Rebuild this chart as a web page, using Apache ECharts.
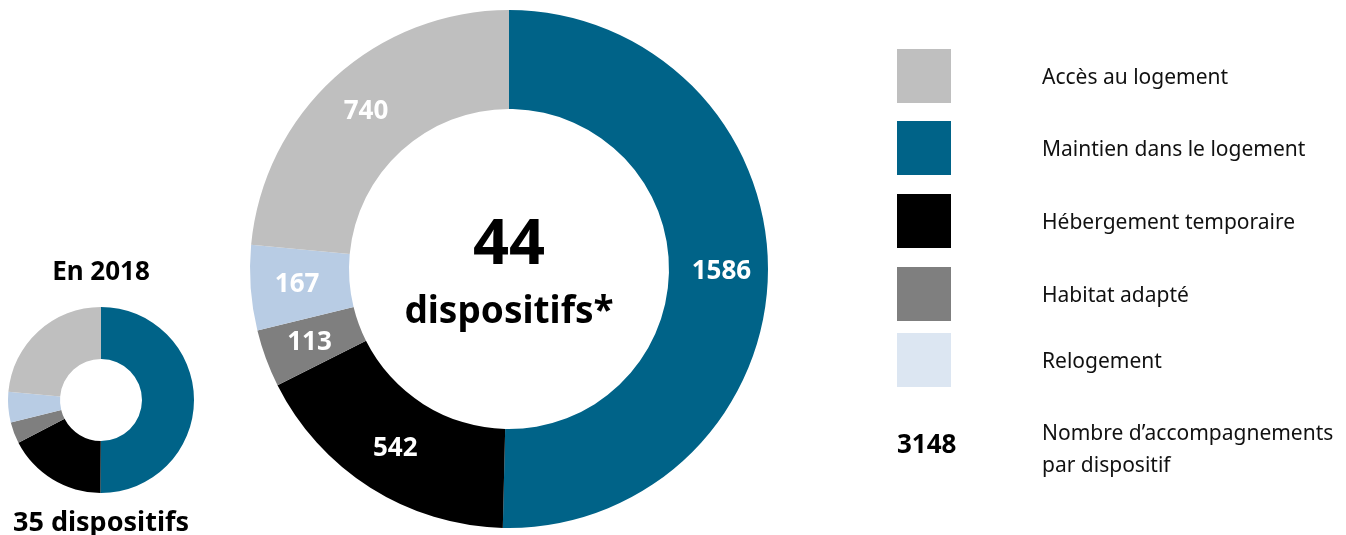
<!DOCTYPE html>
<html>
<head>
<meta charset="utf-8">
<script src="https://cdn.jsdelivr.net/npm/echarts@6/dist/echarts.min.js"></script>
<style>
  html, body { margin: 0; padding: 0; background: #fff; }
  #chart { width: 1346px; height: 535px; }
</style>
</head>
<body>
<div id="chart"></div>
<script>
// Catégories d'accompagnement
const categories = ['Maintien dans le logement', 'Hébergement temporaire', 'Habitat adapté', 'Relogement', 'Accès au logement'];
const colors = ['#006388', '#000000', '#7f7f7f', '#b8cce4', '#bfbfbf'];
// Nombre d'accompagnements par catégorie (année courante, 44 dispositifs)
const values2019 = [1586, 542, 113, 167, 740];
// Répartition en 2018 (35 dispositifs), en %
const values2018 = [50.1, 17.3, 3.7, 5.3, 23.6];
// Ordre et couleurs de la légende
const legendLabels = ['Accès au logement', 'Maintien dans le logement', 'Hébergement temporaire', 'Habitat adapté', 'Relogement'];
const legendColors = ['#bfbfbf', '#006388', '#000000', '#7f7f7f', '#dce6f2'];

const FONT = '"Noto Sans", sans-serif';

const chart = echarts.init(document.getElementById('chart'), null, { renderer: 'canvas' });

const toData = vals => vals.map((v, i) => ({ name: categories[i], value: v, itemStyle: { color: colors[i] } }));

const legendGraphics = [];
const legendTop = [49, 121, 194, 267, 333];
legendLabels.forEach((label, i) => {
  legendGraphics.push({
    type: 'rect', x: 897, y: legendTop[i],
    shape: { width: 54, height: 54 },
    style: { fill: legendColors[i] }
  });
  legendGraphics.push({
    type: 'text', x: 1042, y: legendTop[i] + 29,
    style: { text: label, font: '21px ' + FONT, fill: '#111', verticalAlign: 'middle' }
  });
});

const total = values2019.reduce((a, b) => a + b, 0);

chart.setOption({
  animation: false,
  series: [
    {
      type: 'pie',
      center: [509, 269],
      radius: [160, 259],
      startAngle: 90,
      clockwise: true,
      silent: true,
      label: {
        show: true, position: 'inside', formatter: '{c}',
        color: '#fff', fontFamily: FONT, fontWeight: 'bold', fontSize: 26
      },
      labelLine: { show: false },
      data: toData(values2019)
    },
    {
      type: 'pie',
      center: [101, 400],
      radius: [41, 93],
      startAngle: 90,
      clockwise: true,
      silent: true,
      label: { show: false },
      labelLine: { show: false },
      data: toData(values2018)
    }
  ],
  graphic: [
    { type: 'text', x: 509, y: 246, style: { text: '44', font: 'bold 63px ' + FONT, fill: '#000', align: 'center', verticalAlign: 'middle' } },
    { type: 'text', x: 509, y: 312, style: { text: 'dispositifs*', font: 'bold 37px ' + FONT, fill: '#000', align: 'center', verticalAlign: 'middle' } },
    { type: 'text', x: 101, y: 273, style: { text: 'En 2018', font: 'bold 26px ' + FONT, fill: '#000', align: 'center', verticalAlign: 'middle' } },
    { type: 'text', x: 101, y: 523, style: { text: '35 dispositifs', font: 'bold 27px ' + FONT, fill: '#000', align: 'center', verticalAlign: 'middle' } },
    { type: 'text', x: 897, y: 446, style: { text: String(total), font: 'bold 26px ' + FONT, fill: '#000', verticalAlign: 'middle' } },
    { type: 'text', x: 1042, y: 434, style: { text: 'Nombre d\u2019accompagnements', font: '21px ' + FONT, fill: '#111', verticalAlign: 'middle' } },
    { type: 'text', x: 1042, y: 466, style: { text: 'par dispositif', font: '21px ' + FONT, fill: '#111', verticalAlign: 'middle' } }
  ].concat(legendGraphics)
});
</script>
</body>
</html>
